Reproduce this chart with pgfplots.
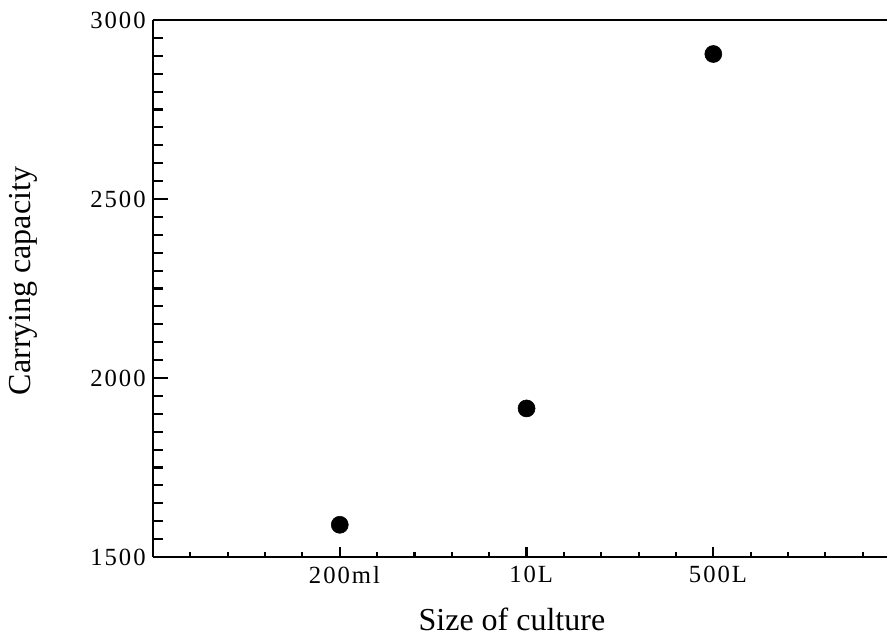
\documentclass[border=0pt]{standalone}
\usepackage{fontspec}
\setmainfont{Liberation Serif}
\newfontfamily\tickfont[LetterSpace=8]{Liberation Serif}
\usepackage{pgfplots}
\pgfplotsset{compat=1.18}

\begin{document}
\begin{tikzpicture}
\begin{axis}[
  name=ax,
  scale only axis,
  width=550.5pt, height=402.75pt,
  xmin=0, xmax=3.93,
  ymin=1500, ymax=3000,
  axis x line*=box,
  axis y line*=left,
  axis line style={line width=1.7pt},
  xtick pos=bottom, ytick pos=left,
  tick align=inside,
  xtick={1,2,3},
  xticklabels={200ml,10L,500L},
  minor xtick={0.2,0.4,...,3.81},
  ytick={1500,2000,2500,3000},
  yticklabels={1500,2000,2500,3000},
  minor ytick={1550,1600,...,2951},
  major tick length=11pt,
  minor tick length=7.5pt,
  x tick style={/pgfplots/major tick length=7.5pt, /pgfplots/minor tick length=4pt},
  every tick/.style={black, line width=1.6pt},
  tick label style={font=\tickfont\fontsize{18.5}{20}\selectfont},
  yticklabel style={xshift=-2pt},
  xticklabel style={yshift=-3.5pt, xshift=3.5pt},
  label style={font=\fontsize{24}{28}\selectfont},
  xlabel={Size of culture},
  ylabel={Carrying capacity},
  xlabel style={at={(rel axis cs:0.489,0)}, anchor=base, yshift=-54.75pt, inner sep=0pt},
  ylabel style={at={(rel axis cs:0,0.514)}, anchor=south, yshift=86.25pt, inner sep=0pt},
  clip=false,
]
\addplot[only marks, mark=*, mark size=6.4pt, mark options={fill=black, draw=black}]
  coordinates {(1,1590) (2,1915) (3,2905)};
\end{axis}
\pgfresetboundingbox
\path[use as bounding box] ([xshift=-114.75pt,yshift=-60.75pt]ax.south west) rectangle ([yshift=15pt]ax.north east);
\end{tikzpicture}
\end{document}
